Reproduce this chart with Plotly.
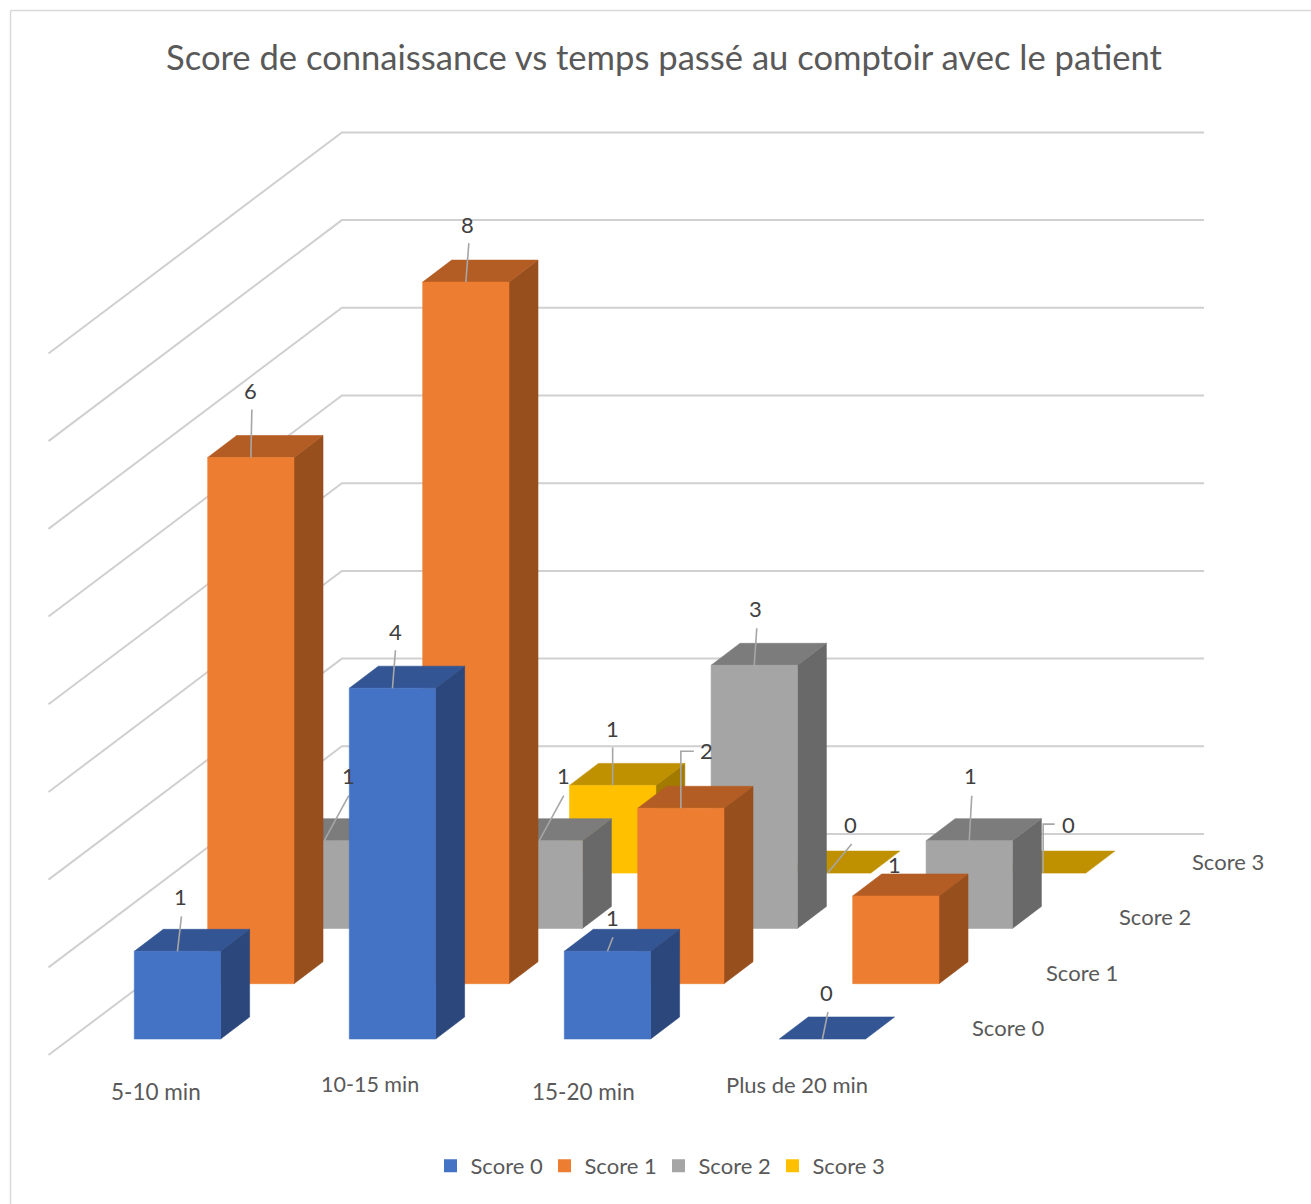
import plotly.graph_objects as go

# ---- data ----
CATEGORIES = ["5-10 min", "10-15 min", "15-20 min", "Plus de 20 min"]
SERIES = ["Score 0", "Score 1", "Score 2", "Score 3"]
SCORE_0 = [1, 4, 1, 0]
SCORE_1 = [6, 8, 2, 1]
SCORE_2 = [1, 1, 3, 1]
SCORE_3 = [0, 1, 0, 0]
VALUES = [SCORE_0, SCORE_1, SCORE_2, SCORE_3]
GRID_LEVELS = [0, 1, 2, 3, 4, 5, 6, 7, 8]
TITLE = "Score de connaissance vs temps passé au comptoir avec le patient"

# ---- style ----
W, H = 1311, 1204
FONT = "Lato"
FRONT = ["#4472C4", "#ED7D31", "#A5A5A5", "#FFC000"]
TOP = ["#335593", "#B35D24", "#7C7C7C", "#BF9000"]
SIDE = ["#2B477C", "#974F1E", "#696969", "#A37A00"]

# pixel size of one unit on each axis
PX_CAT, PX_VAL = 215.0, 87.7
# oblique projection: how one series step moves, in axis units
SERIES_DX, SERIES_DY = 73.4 / PX_CAT, 55.3 / PX_VAL
BAR_W = 86.3 / PX_CAT
DEPTH_DX, DEPTH_DY = 29.0 / PX_CAT, 22.0 / PX_VAL
ORIGIN_PX = (134.3, 1039.0)


def project(cat, series, value):
    return cat + series * SERIES_DX, value + series * SERIES_DY


def px(dx, dy):
    """pixel offset (y downward) to axis units"""
    return dx / PX_CAT, -dy / PX_VAL


# data labels: (series, category) -> label offset and leader path from the bar's front-top centre, pixels
LABELS = {
    (0, 0): ((3, -55), [(4, -35), (0, 0)]),
    (0, 1): ((3, -57), [(3, -38), (0, 0)]),
    (0, 2): ((5, -34), [(5.5, -14), (0, 0)]),
    (0, 3): ((4.5, -47), [(5.5, -27), (0, 0)]),
    (1, 0): ((0, -67), [(1, -48), (0, 0)]),
    (1, 1): ((2, -58), [(3, -39), (0, 0)]),
    (1, 2): ((26, -58), [(13, -57), (0, -57), (0, 0)]),
    (1, 3): ((-1, -32), []),
    (2, 0): ((24.5, -65), [(24.5, -45), (0, 0)]),
    (2, 1): ((24, -65), [(24.5, -45), (0, 0)]),
    (2, 2): ((1.5, -57), [(2.5, -37), (0, 0)]),
    (2, 3): ((1.5, -65), [(2.5, -45), (0, 0)]),
    (3, 1): ((0, -57), [(0, -38), (0, 0)]),
    (3, 2): ((23, -49), [(24, -29), (0, 0)]),
    (3, 3): ((26, -49), [(12, -49), (0.5, -49), (0.5, 0)]),
}

fig = go.Figure()


def poly(xs, ys, color):
    fig.add_trace(go.Scatter(
        x=xs + xs[:1], y=ys + ys[:1], mode="lines", fill="toself", fillcolor=color,
        line=dict(color=color, width=0.6), hoverinfo="skip", showlegend=False))


# walls
WALL_CAT, WALL_FRONT, WALL_BACK, WALL_END = -0.30, -0.29, 3.707, 3.71
for lv in GRID_LEVELS:
    pts = [project(WALL_CAT, WALL_FRONT, lv), project(WALL_CAT, WALL_BACK, lv), project(WALL_END, WALL_BACK, lv)]
    fig.add_trace(go.Scatter(
        x=[p[0] for p in pts], y=[p[1] for p in pts], mode="lines",
        line=dict(color="#d0d0d0", width=2),
        hoverinfo="skip", showlegend=False))

annotations = []
# bars, back series first
for s in reversed(range(len(SERIES))):
    for c, v in enumerate(VALUES[s]):
        x0, y0 = project(c, s, 0)
        x1, y1 = x0 + BAR_W, y0 + v
        if v > 0:
            poly([x1, x1 + DEPTH_DX, x1 + DEPTH_DX, x1],
                 [y0, y0 + DEPTH_DY, y1 + DEPTH_DY, y1], SIDE[s])
        poly([x0, x1, x1 + DEPTH_DX, x0 + DEPTH_DX],
             [y1, y1, y1 + DEPTH_DY, y1 + DEPTH_DY], TOP[s])
        if v > 0:
            poly([x0, x1, x1, x0], [y0, y0, y1, y1], FRONT[s])
    for c, v in enumerate(VALUES[s]):
        if (s, c) not in LABELS:
            continue
        x0, y0 = project(c, s, 0)
        ax, ay = x0 + BAR_W / 2, y0 + v
        (ldx, ldy), path = LABELS[(s, c)]
        if path:
            offs = [px(*o) for o in path]
            fig.add_trace(go.Scatter(
                x=[ax + o[0] for o in offs], y=[ay + o[1] for o in offs], mode="lines",
                line=dict(color="#a6a6a6", width=1.6), hoverinfo="skip", showlegend=False))
        lo = px(ldx, ldy)
        annotations.append(dict(
            x=ax + lo[0], y=ay + lo[1], text=str(v), showarrow=False,
            xanchor="center", yanchor="middle", font=dict(family=FONT, size=22, color="#404040")))

# legend entries
for s, name in enumerate(SERIES):
    fig.add_trace(go.Scatter(
        x=[None], y=[None], mode="markers", name=name,
        marker=dict(symbol="square", size=13, color=FRONT[s])))

# axis labels
CAT_LABEL_SHIFT = [(21.5, 52), (21, 45), (19, 52), (18, 45)]
CAT_LABEL_SIZE = [22.5, 21.5, 22.5, 22]
for c, name in enumerate(CATEGORIES):
    x0, y0 = project(c, 0, 0)
    o = px(*CAT_LABEL_SHIFT[c])
    annotations.append(dict(
        x=x0 + o[0], y=y0 + o[1], text=name, showarrow=False, xanchor="center", yanchor="middle",
        font=dict(family=FONT, size=CAT_LABEL_SIZE[c], color="#595959")))
for s, name in enumerate(SERIES):
    x0, y0 = project(4.065, s, 0)
    o = px(0, -11.5)
    annotations.append(dict(
        x=x0 + o[0], y=y0 + o[1], text=name, showarrow=False, xanchor="center", yanchor="middle",
        font=dict(family=FONT, size=22, color="#595959")))

fig.update_layout(
    width=W, height=H, margin=dict(l=0, r=0, t=0, b=0, pad=0),
    paper_bgcolor="white", plot_bgcolor="white",
    font=dict(family=FONT, color="#595959"),
    title=dict(text=TITLE, x=664 / W, xanchor="center", y=1 - 58 / H, yanchor="middle",
               font=dict(family=FONT, size=34.6, color="#595959")),
    xaxis=dict(range=[(0 - ORIGIN_PX[0]) / PX_CAT, (W - ORIGIN_PX[0]) / PX_CAT], visible=False, fixedrange=True),
    yaxis=dict(range=[(ORIGIN_PX[1] - H) / PX_VAL, ORIGIN_PX[1] / PX_VAL], visible=False, fixedrange=True),
    legend=dict(orientation="h", x=0.5 + 3 / W, xanchor="center", y=1 - 1166 / H, yanchor="middle",
                font=dict(family=FONT, size=22, color="#595959"),
                itemwidth=30, entrywidth=69, entrywidthmode="pixels", bgcolor="rgba(0,0,0,0)",
                itemclick=False, itemdoubleclick=False),
    annotations=annotations,
    shapes=[
        dict(type="line", xref="paper", yref="paper", x0=10.5 / W, x1=1, y0=1 - 10.5 / H, y1=1 - 10.5 / H,
             line=dict(color="#d9d9d9", width=1.5)),
        dict(type="line", xref="paper", yref="paper", x0=10.5 / W, x1=10.5 / W, y0=1 - 10.5 / H, y1=0,
             line=dict(color="#d9d9d9", width=1.5)),
    ],
)

fig.write_html("out.html", config=dict(displayModeBar=False),
               post_script="document.body.style.margin='0';document.documentElement.style.overflow='hidden';")
